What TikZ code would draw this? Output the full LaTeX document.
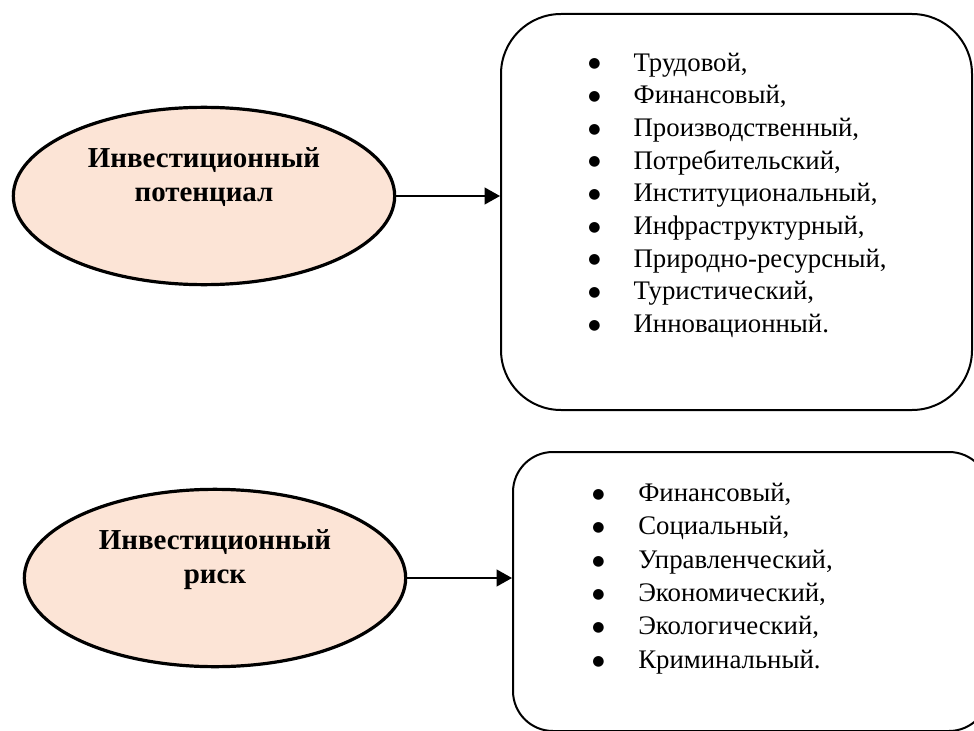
\documentclass[tikz,border=0pt]{standalone}
\usepackage{fontspec}
\setmainfont{Liberation Serif}
\newfontfamily\symfont{DejaVu Sans}
\usepackage{xcolor}
\usetikzlibrary{arrows.meta,positioning,shapes.geometric,calc}
\definecolor{peach}{HTML}{FCE4D6}
\newcommand{\dotmark}{\raisebox{2.4pt}{\symfont\fontsize{10.5}{10.5}\selectfont ●}}

\begin{document}
\begin{tikzpicture}[x=0.75pt, y=-0.75pt, every node/.style={align=center}]
\tikzset{
  oval/.style={ellipse, draw, line width=2.4pt, fill=peach, minimum width=286pt, minimum height=133pt, inner sep=0pt},
  ovaltext/.style={font=\fontsize{21.7}{25.5}\selectfont\bfseries, inner sep=0pt},
  panel/.style={draw, line width=1.5pt, fill=white, inner sep=0pt},
  items/.style={font=\fontsize{20.1}{24.5}\selectfont, anchor=north west, inner sep=0pt, align=left},
  link/.style={-{Triangle[length=11.5pt, width=12.5pt]}, line width=1.5pt}
}
\useasboundingbox (0,0) rectangle (974,731);

% investment potential
\node[oval] (pot) at (204,196) {};
\node[ovaltext] (pottext) at ([yshift=14pt]pot.center) {Инвестиционный\\потенциал};
\node[panel, minimum width=353.25pt, minimum height=297pt, rounded corners=45pt] (potbox) at (736.5,212) {};
\node[items] (potlist) at ([shift={(88,35)}]potbox.north west) {%
  \begin{tabular}{@{}p{34pt}@{}l@{}}
  \dotmark & Трудовой,\\
  \dotmark & Финансовый,\\
  \dotmark & Производственный,\\
  \dotmark & Потребительский,\\
  \dotmark & Институциональный,\\
  \dotmark & Инфраструктурный,\\
  \dotmark & Природно-ресурсный,\\
  \dotmark & Туристический,\\
  \dotmark & Инновационный.
  \end{tabular}};
\draw[link] (pot.east) -- (pot.east -| potbox.west);

% investment risk
\node[oval] (risk) at (215,578) {};
\node[ovaltext] (risktext) at ([yshift=13.5pt]risk.center) {Инвестиционный\\риск};
\node[panel, minimum width=357pt, minimum height=209.25pt, rounded corners=30pt] (riskbox) at (751,591.5) {};
\node[items, font=\fontsize{20.1}{25}\selectfont] (risklist) at ([shift={(80,27)}]riskbox.north west) {%
  \begin{tabular}{@{}p{34.5pt}@{}l@{}}
  \dotmark & Финансовый,\\
  \dotmark & Социальный,\\
  \dotmark & Управленческий,\\
  \dotmark & Экономический,\\
  \dotmark & Экологический,\\
  \dotmark & Криминальный.
  \end{tabular}};
\draw[link] (risk.east) -- (risk.east -| riskbox.west);
\end{tikzpicture}
\end{document}
